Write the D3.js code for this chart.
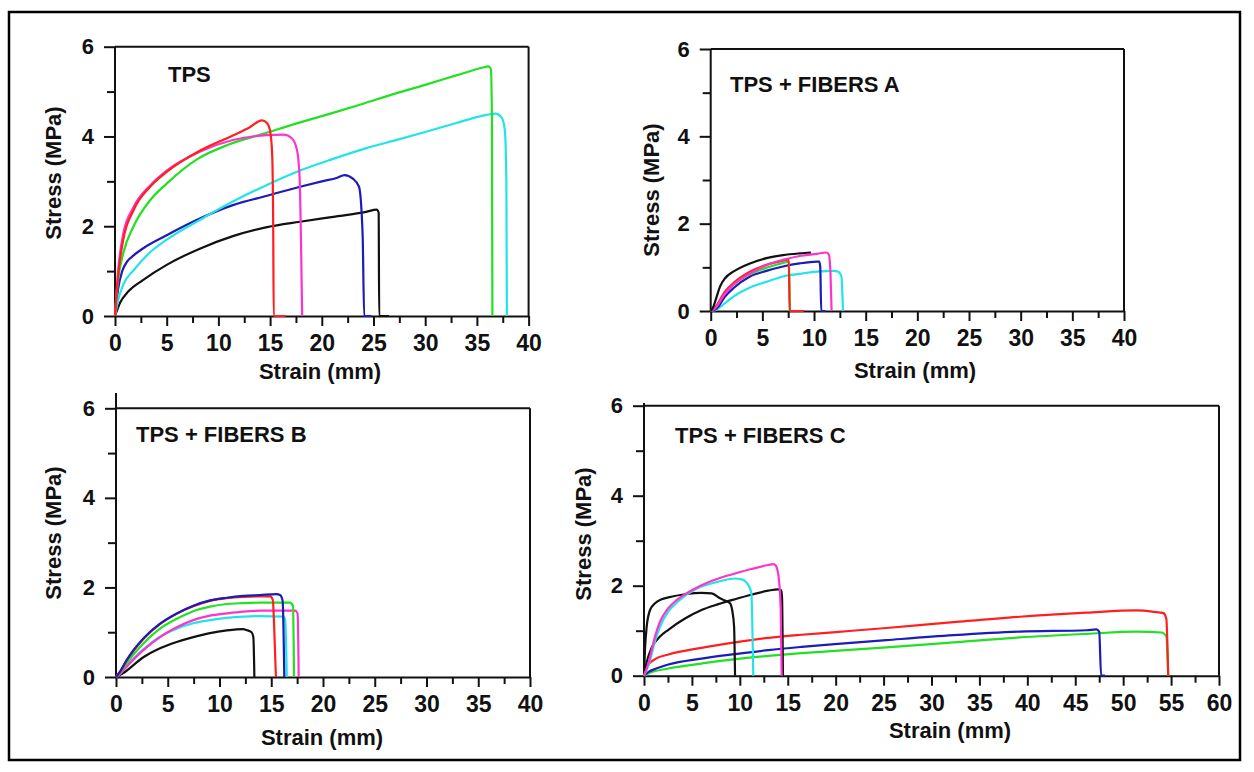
<!DOCTYPE html>
<html><head><meta charset="utf-8">
<script src="https://cdn.jsdelivr.net/npm/d3@7"></script>
<style>
body{margin:0;background:#fff;}
text{font-family:"Liberation Sans",Arial,sans-serif;font-weight:bold;fill:#111;}
</style>
</head><body>
<svg id="c" width="1254" height="772"></svg>
<script>
// ---------- tick labels ----------
const xLabels40 = [0,5,10,15,20,25,30,35,40];
const xLabels60 = [0,5,10,15,20,25,30,35,40,45,50,55,60];
const yLabels = [0,2,4,6];
const yMinor = [1,3,5];

// ---------- TPS ----------
const tpsRed = [[0,0],[0.15,0.5],[0.3,0.9],[0.8,1.7],[1.8,2.36],[3.4,2.88],[5,3.21],[8.2,3.68],[11.4,4.02],[13,4.2],[14.2,4.36],[14.7,4.3],[15.0,4.12],[15.2,3.6],[15.3,2.0],[15.35,0],[16.5,0]];
const tpsMagenta = [[0,0],[0.15,0.55],[0.3,1.0],[0.8,1.84],[1.8,2.43],[3.4,2.91],[5,3.24],[8.2,3.66],[11.4,3.92],[14.7,4.03],[16.3,4.04],[17.1,3.96],[17.6,3.7],[17.85,3.1],[18.0,1.5],[18.1,0]];
const tpsGreen = [[0,0],[0.15,0.45],[0.3,0.8],[0.8,1.4],[1.8,2.0],[3.4,2.58],[5,2.95],[8,3.5],[11,3.82],[14.5,4.07],[18,4.32],[21,4.52],[24,4.73],[27,4.95],[30,5.15],[33,5.36],[35.5,5.53],[36.1,5.56],[36.35,5.5],[36.45,4.5],[36.5,0]];
const tpsCyan = [[0,0],[0.3,0.35],[0.8,0.7],[1.8,1.02],[3.4,1.42],[5,1.7],[8.2,2.14],[11.4,2.55],[14.7,2.92],[17.9,3.24],[21.1,3.5],[24.3,3.74],[27.5,3.94],[30,4.1],[33,4.3],[35.5,4.46],[36.8,4.51],[37.4,4.42],[37.7,4.14],[37.85,3.0],[37.9,0]];
const tpsBlue = [[0,0],[0.3,0.6],[0.7,1.0],[1.2,1.22],[1.8,1.35],[3,1.55],[5,1.8],[8.2,2.17],[11.4,2.47],[14.7,2.68],[17.9,2.88],[20,3.0],[21.5,3.08],[22.2,3.14],[23,3.06],[23.6,2.88],[23.95,1.8],[24.1,0],[24.8,0]];
const tpsBlack = [[0,0],[0.5,0.3],[1.3,0.55],[2.7,0.8],[5,1.14],[8.2,1.5],[11.4,1.78],[14.7,1.98],[17.9,2.1],[21.1,2.21],[24.3,2.32],[25.3,2.37],[25.5,2.3],[25.55,0],[26.5,0]];

// ---------- TPS + FIBERS A ----------
const aBlack = [[0,0],[0.26,0.1],[0.58,0.33],[0.9,0.56],[1.39,0.75],[2.19,0.9],[3.8,1.09],[5.4,1.21],[7.0,1.28],[8.6,1.32],[9.7,1.34]];
const aMagenta = [[0,0],[0.42,0.06],[1.39,0.4],[2.19,0.6],[3.8,0.86],[5.4,1.05],[7.0,1.17],[8.6,1.26],[10.3,1.31],[11.2,1.34],[11.45,1.28],[11.6,0.8],[11.7,0]];
const aRed = [[0,0],[0.42,0.08],[1.39,0.45],[2.19,0.64],[3.8,0.9],[5.4,1.06],[7.0,1.15],[7.55,1.18],[7.65,0],[9,0]];
const aGreen = [[0,0],[0.5,0.1],[1.39,0.42],[2.19,0.6],[3.8,0.84],[5.4,0.99],[7.0,1.1],[7.6,1.13],[7.65,0]];
const aBlue = [[0,0],[0.58,0.06],[1.39,0.33],[2.19,0.52],[3.8,0.79],[5.4,0.92],[7.0,1.02],[8.6,1.09],[10.3,1.13],[10.5,1.13],[10.6,1.02],[10.7,0],[11.1,0]];
const aCyan = [[0,0],[0.42,0.02],[1.39,0.18],[2.19,0.33],[3.8,0.54],[5.4,0.67],[7.0,0.79],[8.6,0.85],[10.3,0.9],[11.9,0.92],[12.35,0.9],[12.65,0.79],[12.8,0]];

// ---------- TPS + FIBERS B ----------
const bBlue = [[0,0],[0.39,0.12],[1.03,0.38],[2.64,0.86],[4.25,1.19],[5.86,1.42],[7.47,1.59],[9.08,1.71],[10.7,1.77],[12.3,1.81],[13.9,1.83],[15.5,1.85],[15.85,1.83],[16.1,1.7],[16.26,0]];
const bRed = [[0,0],[0.39,0.12],[1.03,0.37],[2.64,0.85],[4.25,1.18],[5.86,1.41],[7.47,1.58],[9.08,1.7],[10.7,1.76],[12.3,1.79],[13.9,1.8],[14.9,1.8],[15.15,1.72],[15.3,1.0],[15.45,0]];
const bGreen = [[0,0],[0.4,0.1],[1.03,0.31],[2.64,0.75],[4.25,1.08],[5.86,1.3],[7.47,1.47],[9.08,1.57],[10.7,1.63],[12.3,1.65],[13.9,1.66],[16.8,1.66],[17.1,1.59],[17.2,0]];
const bMagenta = [[0,0],[0.4,0.07],[1.03,0.23],[2.64,0.6],[4.25,0.89],[5.86,1.11],[7.47,1.27],[9.08,1.37],[10.7,1.42],[12.3,1.46],[13.9,1.48],[17.3,1.48],[17.55,1.41],[17.65,0]];
const bCyan = [[0,0],[0.4,0.08],[1.03,0.25],[2.64,0.62],[4.25,0.9],[5.86,1.08],[7.47,1.2],[9.08,1.27],[10.7,1.32],[12.3,1.35],[13.9,1.36],[16.2,1.35],[16.35,1.26],[16.5,0]];
const bBlack = [[0,0],[0.71,0.09],[2.64,0.44],[4.25,0.64],[5.86,0.78],[7.47,0.89],[9.08,0.98],[10.7,1.04],[12.3,1.07],[12.6,1.05],[13.1,1.0],[13.27,0.89],[13.37,0]];

// ---------- TPS + FIBERS C ----------
const cMagenta = [[0,0],[0.45,0.27],[0.8,0.57],[1.15,0.87],[1.67,1.2],[2.54,1.5],[3.4,1.68],[4.28,1.81],[6.0,2.01],[7.76,2.16],[9.5,2.27],[11.2,2.37],[12.97,2.46],[13.5,2.48],[13.74,2.45],[14.0,2.27],[14.26,1.53],[14.37,0]];
const cCyan = [[0,0],[0.5,0.25],[1.2,0.8],[1.7,1.1],[2.5,1.42],[3.4,1.62],[4.3,1.78],[5.2,1.9],[6.0,1.98],[7.76,2.09],[9.5,2.16],[10.2,2.14],[10.9,2.01],[11.2,1.83],[11.4,0]];
const cBlack1 = [[0,0],[0.1,0.57],[0.28,1.09],[0.63,1.46],[1.15,1.61],[1.84,1.7],[2.54,1.74],[4.28,1.81],[6.0,1.84],[7.06,1.83],[7.93,1.72],[8.45,1.67],[8.97,1.61],[9.2,1.46],[9.4,1.09],[9.5,0]];
const cBlack2 = [[0,0],[0.28,0.3],[0.8,0.62],[1.67,0.87],[2.54,1.02],[4.28,1.27],[6.0,1.46],[7.76,1.59],[9.5,1.7],[11.2,1.8],[12.97,1.89],[14.0,1.92],[14.3,1.9],[14.4,1.76],[14.5,0]];
const cRed = [[0,0],[0.1,0.09],[0.45,0.24],[1.15,0.37],[2.54,0.47],[6.0,0.62],[9.5,0.74],[12.97,0.84],[16.45,0.91],[20,0.97],[25.3,1.06],[32.3,1.19],[39.2,1.31],[46.2,1.4],[51.4,1.45],[53.2,1.42],[54.2,1.39],[54.5,1.27],[54.7,0]];
const cBlue = [[0,0],[0.45,0.08],[1.15,0.15],[2.54,0.25],[6.0,0.38],[9.5,0.48],[12.97,0.57],[16.45,0.64],[19.9,0.7],[25.3,0.79],[32.3,0.9],[39.2,0.98],[46.2,1.01],[47.2,1.03],[47.5,0.98],[47.7,0],[48.1,0]];
const cGreen = [[0,0],[0.45,0.05],[2.54,0.16],[6.0,0.27],[9.5,0.37],[12.97,0.44],[16.45,0.5],[19.9,0.55],[25.3,0.63],[32.3,0.74],[39.2,0.85],[46.2,0.93],[51.4,0.98],[54.0,0.96],[54.5,0.88],[54.7,0]];

const COL = {red:"#ff1f1f", magenta:"#ff33cc", green:"#22e022", cyan:"#22e4e8", blue:"#1c1cb8", black:"#111111"};

const panels = [
  {title:"TPS", xmax:40, xl:xLabels40, L:115, R:528.6, T:46.7, B:316, axTop:46.7,
   titlePos:[168,82], xt:[320,379], yt:[61,173],
   series:[["black",tpsBlack],["blue",tpsBlue],["cyan",tpsCyan],["green",tpsGreen],["magenta",tpsMagenta],["red",tpsRed]]},
  {title:"TPS + FIBERS A", xmax:40, xl:xLabels40, L:710.7, R:1124, T:49, B:311, axTop:49,
   titlePos:[730,92], xt:[915,378], yt:[659,190],
   series:[["cyan",aCyan],["blue",aBlue],["green",aGreen],["red",aRed],["magenta",aMagenta],["black",aBlack]]},
  {title:"TPS + FIBERS B", xmax:40, xl:xLabels40, L:116, R:530, T:408.3, B:677, axTop:393,
   titlePos:[136,442], xt:[322,745], yt:[61,533],
   series:[["black",bBlack],["cyan",bCyan],["magenta",bMagenta],["green",bGreen],["red",bRed],["blue",bBlue]]},
  {title:"TPS + FIBERS C", xmax:60, xl:xLabels60, L:644, R:1219, T:405.7, B:675.7, axTop:403,
   titlePos:[675,443], xt:[950,738], yt:[591,534],
   series:[["green",cGreen],["blue",cBlue],["red",cRed],["black",cBlack2],["black",cBlack1],["cyan",cCyan],["magenta",cMagenta]]}
];

const svg = d3.select("#c");
svg.append("rect").attr("x",0).attr("y",0).attr("width",1254).attr("height",772).attr("fill","#fff");
// outer border
svg.append("rect").attr("x",9).attr("y",12).attr("width",1231).attr("height",748)
  .attr("fill","none").attr("stroke","#000").attr("stroke-width",2.5);

panels.forEach(p => {
  const x = d3.scaleLinear().domain([0,p.xmax]).range([p.L,p.R]);
  const y = d3.scaleLinear().domain([0,6]).range([p.B,p.T]);
  const g = svg.append("g");

  // frame top/right
  g.append("line").attr("x1",p.L).attr("x2",p.R).attr("y1",p.T).attr("y2",p.T).attr("stroke","#111").attr("stroke-width",2);
  g.append("line").attr("x1",p.R).attr("x2",p.R).attr("y1",p.T).attr("y2",p.B).attr("stroke","#111").attr("stroke-width",2);

  // minor x ticks
  const minorX = d3.range(2.5, p.xmax, 5);
  g.append("g").attr("transform",`translate(0,${p.B})`)
    .call(d3.axisBottom(x).tickValues(minorX).tickSize(7).tickSizeOuter(0).tickFormat(""))
    .call(s=>s.select(".domain").remove())
    .call(s=>s.selectAll("line").attr("stroke","#111").attr("stroke-width",2));
  // major x ticks
  g.append("g").attr("transform",`translate(0,${p.B})`)
    .call(d3.axisBottom(x).tickValues(p.xl).tickSize(10).tickSizeOuter(0).tickPadding(9).tickFormat(d3.format("d")))
    .call(s=>s.select(".domain").attr("stroke","#111").attr("stroke-width",2))
    .call(s=>s.selectAll("line").attr("stroke","#111").attr("stroke-width",2))
    .call(s=>s.selectAll("text").attr("font-size",23).attr("fill","#111"));

  // y axis
  g.append("g").attr("transform",`translate(${p.L},0)`)
    .call(d3.axisLeft(y).tickValues(yMinor).tickSize(8).tickSizeOuter(0).tickFormat(""))
    .call(s=>s.select(".domain").remove())
    .call(s=>s.selectAll("line").attr("stroke","#111").attr("stroke-width",2));
  g.append("g").attr("transform",`translate(${p.L},0)`)
    .call(d3.axisLeft(y).tickValues(yLabels).tickSize(11).tickSizeOuter(0).tickPadding(10).tickFormat(d3.format("d")))
    .call(s=>s.select(".domain").remove())
    .call(s=>s.selectAll("line").attr("stroke","#111").attr("stroke-width",2))
    .call(s=>s.selectAll("text").attr("font-size",22).attr("fill","#111"));
  g.append("line").attr("x1",p.L).attr("x2",p.L).attr("y1",p.axTop).attr("y2",p.B).attr("stroke","#111").attr("stroke-width",2);

  // curves
  const line = d3.line().x(d=>x(d[0])).y(d=>y(d[1])).curve(d3.curveMonotoneX);
  p.series.forEach(([c,data]) => {
    g.append("path").attr("d",line(data)).attr("fill","none")
      .attr("stroke",COL[c]).attr("stroke-width",2.2).attr("stroke-linejoin","round");
  });

  // texts
  g.append("text").attr("x",p.titlePos[0]).attr("y",p.titlePos[1]).attr("font-size",22).text(p.title);
  g.append("text").attr("x",p.xt[0]).attr("y",p.xt[1]).attr("text-anchor","middle").attr("font-size",22).text("Strain (mm)");
  g.append("text").attr("transform",`translate(${p.yt[0]},${p.yt[1]}) rotate(-90)`)
    .attr("text-anchor","middle").attr("font-size",22).text("Stress (MPa)");
});
</script>
</body></html>
